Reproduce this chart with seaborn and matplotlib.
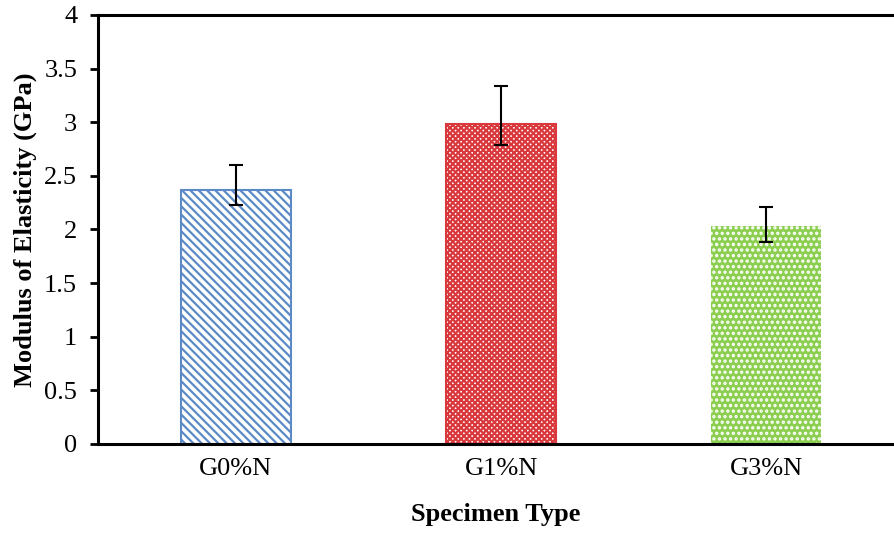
import matplotlib
matplotlib.use("Agg")
import matplotlib.pyplot as plt
import seaborn as sns
import numpy as np
import pandas as pd

# data
specimens = ["G0%N", "G1%N", "G3%N"]
modulus = [2.37, 2.98, 2.03]
err_low = [0.14, 0.19, 0.15]
err_high = [0.23, 0.36, 0.18]

df = pd.DataFrame({"Specimen Type": specimens, "Modulus": modulus})

sns.set_style("white")
plt.rcParams["font.family"] = ["Liberation Serif", "DejaVu Serif"]
plt.rcParams["hatch.linewidth"] = 1.6
plt.rcParams["text.color"] = "black"
plt.rcParams["axes.labelcolor"] = "black"
plt.rcParams["xtick.color"] = "black"
plt.rcParams["ytick.color"] = "black"

fig = plt.figure(figsize=(8.95, 5.33), dpi=100)
ax = fig.add_axes([0.1095, 0.167, 0.889, 0.805])

sns.barplot(data=df, x="Specimen Type", y="Modulus", ax=ax, width=0.415,
            color="white", errorbar=None)

# per-bar styling: blue stripes, red crosshatch, green with white dots
styles = [
    dict(facecolor="white", edgecolor="#5b8ac6", hatch="\\\\\\\\", lw=1.5),
    dict(facecolor="white", edgecolor="#d9383d", hatch="xxxxxx", lw=1.5),
    dict(facecolor="#8ccf50", edgecolor="white", hatch="...", lw=0),
]
for patch, st in zip(ax.patches, styles):
    patch.set_facecolor(st["facecolor"])
    patch.set_edgecolor(st["edgecolor"])
    patch.set_hatch(st["hatch"])
    patch.set_linewidth(st["lw"])

ax.errorbar(np.arange(len(specimens)), modulus, yerr=[err_low, err_high],
            fmt="none", ecolor="black", elinewidth=1.5, capsize=5, capthick=1.5)

ax.set_ylim(0, 4)
ax.set_yticks(np.arange(0, 4.01, 0.5))
ax.set_yticklabels(["0", "0.5", "1", "1.5", "2", "2.5", "3", "3.5", "4"])
ax.set_xlim(-0.52, 2.48)

for s in ["left", "top", "bottom"]:
    ax.spines[s].set_visible(True)
    ax.spines[s].set_linewidth(2.2)
    ax.spines[s].set_color("black")
ax.spines["right"].set_visible(False)

ax.tick_params(axis="y", direction="out", length=6, width=2, labelsize=19,
               left=True, pad=9, colors="black")
ax.tick_params(axis="x", length=0, labelsize=19, pad=10, colors="black")

ax.set_xlabel("Specimen Type", fontsize=19, fontweight="bold", labelpad=17,
              color="black")
ax.set_ylabel("Modulus of Elasticity (GPa)", fontsize=19, fontweight="bold",
              labelpad=5, color="black")

fig.savefig("out.png", dpi=100)
